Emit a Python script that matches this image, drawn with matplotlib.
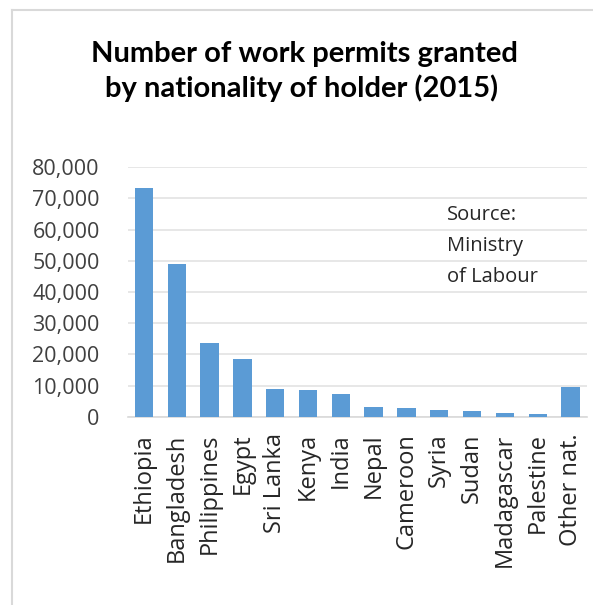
import matplotlib
matplotlib.use("Agg")
import matplotlib.pyplot as plt
from matplotlib.lines import Line2D

# data
countries = ["Ethiopia", "Bangladesh", "Philippines", "Egypt", "Sri Lanka", "Kenya",
             "India", "Nepal", "Cameroon", "Syria", "Sudan", "Madagascar",
             "Palestine", "Other nat."]
permits = [73300, 49000, 23700, 18400, 8800, 8500, 7400, 3000, 2700, 2300,
           1700, 1300, 900, 9400]
yticks = [0, 10000, 20000, 30000, 40000, 50000, 60000, 70000, 80000]

plt.rcParams['font.family'] = ['Open Sans', 'DejaVu Sans']

W, H = 593, 605
fig = plt.figure(figsize=(W/100, H/100), dpi=100, facecolor='white')

# light frame around the chart (left and top edges visible)
fig.add_artist(Line2D([12/W, 12/W], [0, 1 - 10/H], color='#d9d9d9', lw=1.5,
                      transform=fig.transFigure))
fig.add_artist(Line2D([12/W, 1], [1 - 10/H, 1 - 10/H], color='#d9d9d9', lw=1.5,
                      transform=fig.transFigure))

ax = fig.add_axes([127.5/W, 1 - 416.7/H, (587 - 127.5)/W, (416.7 - 167.3)/H])
ax.bar(range(len(countries)), permits, width=0.56, color='#5b9bd5', zorder=3)

ax.set_ylim(0, 80000)
ax.set_xlim(-0.5, len(countries) - 0.5)
ax.set_yticks(yticks)
ax.set_yticklabels([f"{v:,}" for v in yticks], fontsize=15.5, color='#404040')
ax.set_xticks(range(len(countries)))
ax.set_xticklabels(countries, rotation=90, fontsize=17, color='#262626')
ax.tick_params(axis='y', length=0, pad=20)
ax.tick_params(axis='x', length=0, pad=12)
ax.grid(axis='y', color='#e3e3e3', lw=1.2, zorder=0)
for s in ['top', 'right', 'left']:
    ax.spines[s].set_visible(False)
ax.spines['bottom'].set_color('#d9d9d9')
ax.spines['bottom'].set_linewidth(1.2)

ax.text(447/W, 1 - 205/H, "Source:\nMinistry\nof Labour", transform=fig.transFigure,
        fontsize=14.5, color='#262626', va='top', ha='left', linespacing=1.75)

title_font = ['Lato', 'DejaVu Sans']
fig.text(304/W, 1 - 62/H, "Number of work permits granted", ha='center', va='baseline',
         fontsize=21, fontweight='bold', color='black', family=title_font)
fig.text(302/W, 1 - 97/H, "by nationality of holder (2015)", ha='center', va='baseline',
         fontsize=21, fontweight='bold', color='black', family=title_font)

fig.savefig("out.png", dpi=100, facecolor='white')
